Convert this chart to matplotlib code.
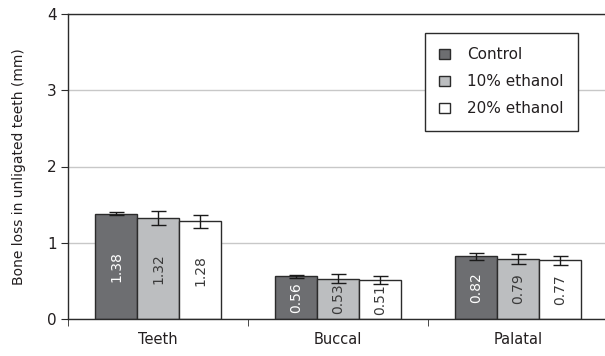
import matplotlib.pyplot as plt
import numpy as np
from matplotlib.patches import Patch

sites = ["Teeth", "Buccal", "Palatal"]
groups = ["Control", "10% ethanol", "20% ethanol"]
means = [
    [1.38, 0.56, 0.82],  # Control
    [1.32, 0.53, 0.79],  # 10% ethanol
    [1.28, 0.51, 0.77],  # 20% ethanol
]
errors = [
    [0.02, 0.02, 0.04],
    [0.09, 0.06, 0.065],
    [0.09, 0.05, 0.06],
]
colors = ["#6d6e71", "#bcbec0", "#ffffff"]
label_colors = ["white", "#3a3a3a", "#3a3a3a"]

text_color = "#231f20"
edge = "#2b2b2b"

fig = plt.figure(figsize=(6.05, 3.56), dpi=100)
ax = fig.add_axes([68 / 605, 37 / 356, 540 / 605, 305 / 356])

x = np.arange(len(sites))
width = 0.233

for i, g in enumerate(groups):
    pos = x + (i - 1) * width
    ax.bar(pos, means[i], width, color=colors[i], edgecolor=edge, linewidth=1,
           zorder=2, label=g)
    ax.errorbar(pos, means[i], yerr=errors[i], fmt="none", ecolor="#1a1a1a",
                elinewidth=1, capsize=5.4, capthick=1, zorder=3)
    for p, v in zip(pos, means[i]):
        ax.text(p, v / 2, f"{v:.2f}", rotation=90, ha="center", va="center",
                color=label_colors[i], fontsize=10, zorder=4)

ax.set_xlim(-0.5, 2.5)
ax.set_ylim(0, 4)
ax.set_yticks([0, 1, 2, 3, 4])
ax.set_xticks(x)
ax.set_xticklabels(sites)
ax.set_xticks([-0.5, 0.5, 1.5], minor=True)

ax.yaxis.grid(True, color="#c8c8c8", linewidth=1)
ax.set_axisbelow(True)

ax.spines["right"].set_visible(False)
for s in ["left", "top", "bottom"]:
    ax.spines[s].set_color(edge)
    ax.spines[s].set_linewidth(1)

ax.tick_params(axis="y", direction="out", length=5, color=edge,
               labelsize=11, labelcolor=text_color, pad=3)
ax.tick_params(axis="x", which="major", length=0, labelsize=10.5,
               labelcolor=text_color, pad=9)
ax.tick_params(axis="x", which="minor", direction="out", length=5, color=edge)

ax.set_ylabel("Bone loss in unligated teeth (mm)", fontsize=10,
              color=text_color, labelpad=15)

handles = [Patch(facecolor=c, edgecolor=edge, linewidth=1) for c in colors]
leg = ax.legend(handles, groups, loc="upper left",
                bbox_to_anchor=(0.661, 0.938), frameon=True, fancybox=False,
                framealpha=1, edgecolor=edge, fontsize=11,
                handlelength=0.7, handleheight=0.7, handletextpad=1.1,
                labelspacing=0.78, borderpad=0.95, borderaxespad=0)
leg.get_frame().set_linewidth(1)
for t in leg.get_texts():
    t.set_color(text_color)

fig.savefig("out.png", dpi=100)
